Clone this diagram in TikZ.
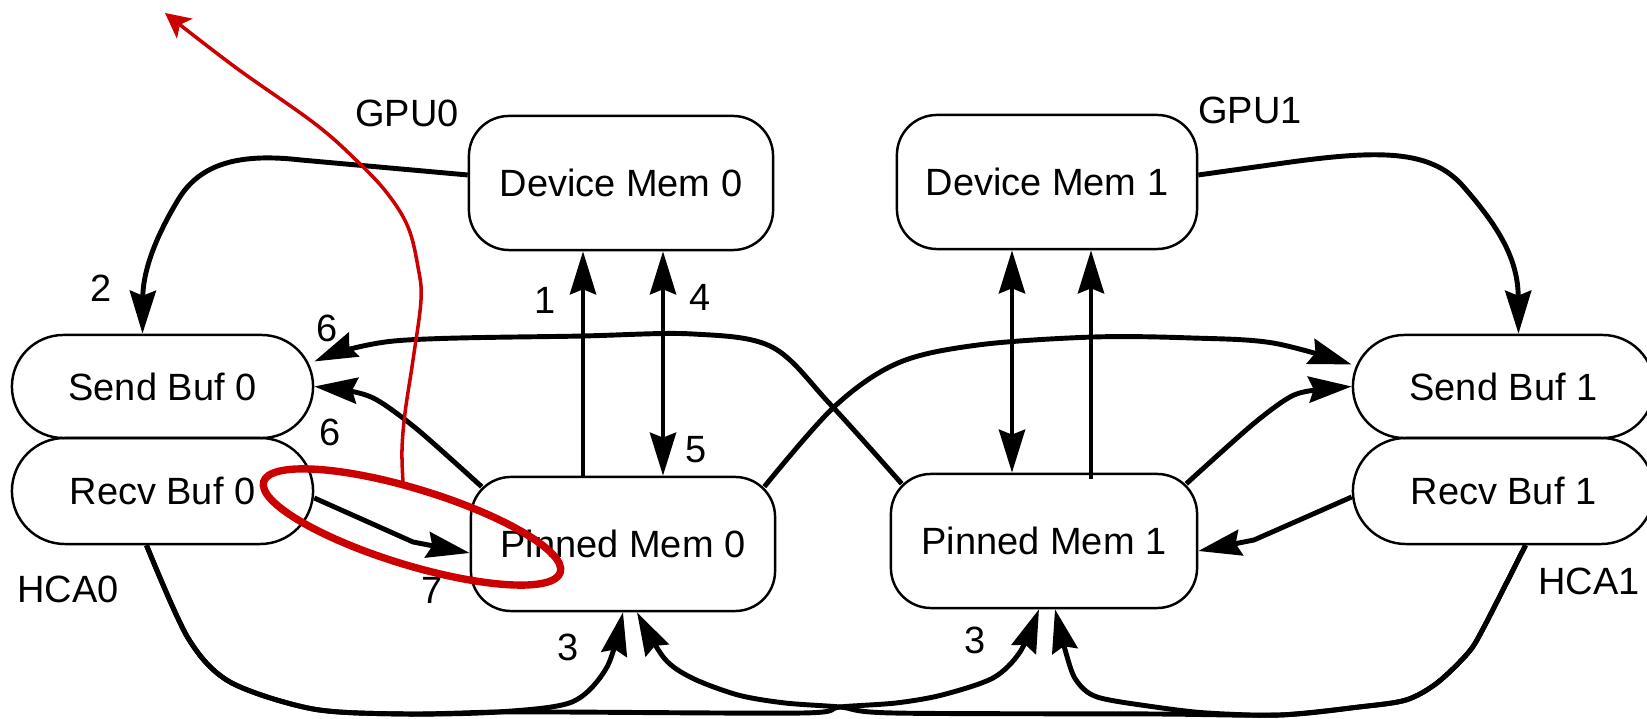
\documentclass[tikz,border=0pt]{standalone}
\usepackage{fontspec}
\setmainfont{Liberation Sans}
\usetikzlibrary{arrows.meta,shapes.misc,calc}
\definecolor{annot}{RGB}{204,0,0}
\begin{document}
\begin{tikzpicture}[x=0.01cm, y=-0.01cm,
  every node/.style={font=\fontsize{10.8}{13}\selectfont},
  membox/.style={draw, line width=0.7pt, rounded corners=0.4cm,
    minimum width=3.04cm, minimum height=1.34cm, inner sep=0pt},
  bufbox/.style={draw, line width=0.7pt, rounded rectangle,
    minimum width=3.01cm, inner sep=0pt},
  lbl/.style={inner sep=0pt},
  link/.style={line width=1.4pt, line join=round},
  tip/.style={-{Stealth[length=0.43cm,width=0.26cm,inset=0.05cm]}},
  tips/.style={{Stealth[length=0.43cm,width=0.26cm,inset=0.05cm]}-{Stealth[length=0.43cm,width=0.26cm,inset=0.05cm]}},
  redline/.style={annot, line width=1pt},
]
\useasboundingbox (0,0) rectangle (1647,719);

% memory blocks
\node[membox] (dm0) at (621,183) {Device Mem 0};
\node[membox, minimum width=3.00cm] (dm1) at (1047,182) {Device Mem 1};
\node[membox] (pm0) at (623,544) {Pinned Mem 0};
\node[membox, minimum width=3.06cm] (pm1) at (1044,541) {Pinned Mem 1};

% HCA buffers
\node[bufbox, minimum height=1.03cm] (sb0) at (162.5,386.5) {Send Buf 0};
\node[bufbox, minimum height=1.06cm] (rb0) at (162.5,491) {Recv Buf 0};
\node[bufbox, minimum height=1.03cm] (sb1) at (1503.5,386.5) {Send Buf 1};
\node[bufbox, minimum height=1.06cm] (rb1) at (1503.5,491) {Recv Buf 1};

% group and step labels
\node[lbl] (gpu0) at (407,113) {GPU0};
\node[lbl] (gpu1) at (1250,110) {GPU1};
\node[lbl] (hca0) at (68,589) {HCA0};
\node[lbl] (hca1) at (1589,581) {HCA1};
\node[lbl] (n2) at (101,288) {2};
\node[lbl] (n1) at (545,300) {1};
\node[lbl] (n4) at (700,297) {4};
\node[lbl] (n6a) at (327,328) {6};
\node[lbl] (n6b) at (330,432) {6};
\node[lbl] (n5) at (696,450) {5};
\node[lbl] (n7) at (432,590) {7};
\node[lbl] (n3a) at (568,647) {3};
\node[lbl] (n3b) at (975,640) {3};

% vertical copy lanes
\coordinate (v1) at (583,0);
\coordinate (v4) at (663,0);
\coordinate (w1) at (1012,0);
\coordinate (w2) at (1091,0);
\draw[link, tip] (v1 |- pm0.north) -- (v1 |- dm0.south);
\draw[link, tips] (v4 |- pm0.north) -- (v4 |- dm0.south);
\draw[link, tips] (w1 |- pm1.north) -- (w1 |- dm1.south);
\draw[link, tip] ($(w2 |- pm1.north)+(0,6)$) -- (w2 |- dm1.south);

% device memory to send buffers
\draw[link, tip] ([yshift=0.08cm]dm0.west) -- (301,160)
  .. controls (240,153) and (200,163) .. (178,200)
  .. controls (152,243) and (143,275) .. ([xshift=-0.2cm]sb0.north);
\draw[link, tip] ([yshift=0.07cm]dm1.east) -- (1291,162)
  .. controls (1380,150) and (1430,150) .. (1462,185)
  .. controls (1500,228) and (1518,260) .. ([xshift=0.15cm]sb1.north);

% pinned memory to send buffers
\draw[link, tip] plot[smooth, tension=0.55] coordinates {([shift={(12,11)}]pm1.north west) (830,404) (772,347) (693,334) (583,336) (394,341) ([yshift=0.25cm]sb0.east)};
\draw[link, tip] plot[smooth, tension=0.5] coordinates {([shift={(12,11)}]pm0.north west) (418,430) (377,400) (350,391) (sb0.east)};
\draw[link, tip] plot[smooth, tension=0.55] coordinates {([shift={(-12,11)}]pm0.north east) (834,407) (898,363) (978,345) (1094,337) (1192,338) (1273,343) ([yshift=0.22cm]sb1.west)};
\draw[link, tip] plot[smooth, tension=0.5] coordinates {([shift={(-12,11)}]pm1.north east) (1252,425) (1290,397) (1315,390) (sb1.west)};

% receive buffers to pinned memory
\draw[link, tip] ([yshift=-0.07cm]rb0.east) -- (413,542) -- ([yshift=-0.09cm]pm0.west);
\draw[link, tip] ([yshift=-0.06cm]rb1.west) -- (1254,540) -- ([yshift=-0.1cm]pm1.east);

% bottom return paths
\draw[link, tip] plot[smooth, tension=0.5] coordinates {([xshift=-0.16cm]rb0.south) (188,638) (230,682) (313,709) (405,714) (498,712) (572,702) (607,667) (pm0.south)};
\draw[link, tip] plot[smooth, tension=0.5] coordinates {([xshift=-0.16cm]rb0.south) (188,638) (230,682) (313,709) (405,714) (498,712) (560,712) (803,713) (840,707) (896,703) (942,695) (993,678) (1020,652) ([xshift=-0.05cm]pm1.south)};
\draw[link, tip] plot[smooth, tension=0.5] coordinates {([xshift=0.22cm]rb1.south) (1484,627) (1468,653) (1437,683) (1406,700) (1359,707) (1280,715) (1155,714) (893,713) (840,707) (785,703) (738,695) (692,678) (664,658) ([xshift=0.14cm]pm0.south)};
\draw[link, tip] plot[smooth, tension=0.5] coordinates {([xshift=0.22cm]rb1.south) (1484,627) (1468,653) (1437,683) (1406,700) (1359,707) (1280,715) (1207,713) (1155,707) (1097,697) (1076,680) (1066,653) ([xshift=0.11cm]pm1.south)};

% red markup
\coordinate (rs) at (403,482);
\coordinate (re) at (165,13);
\draw[redline, -{Stealth[length=0.25cm,width=0.25cm,inset=0.06cm]}] plot[smooth, tension=0.6] coordinates {(rs) (402,450) (405,413) (413,360) (421,300) (418,267) (408,227) (387,193) (356,160) (314,123) (235,67) (re)};
\coordinate (ec) at (412,527);
\draw[annot, line width=2.1pt, rotate around={-17:(ec)}] (ec) ellipse [x radius=1.55cm, y radius=0.38cm];
\end{tikzpicture}
\end{document}
